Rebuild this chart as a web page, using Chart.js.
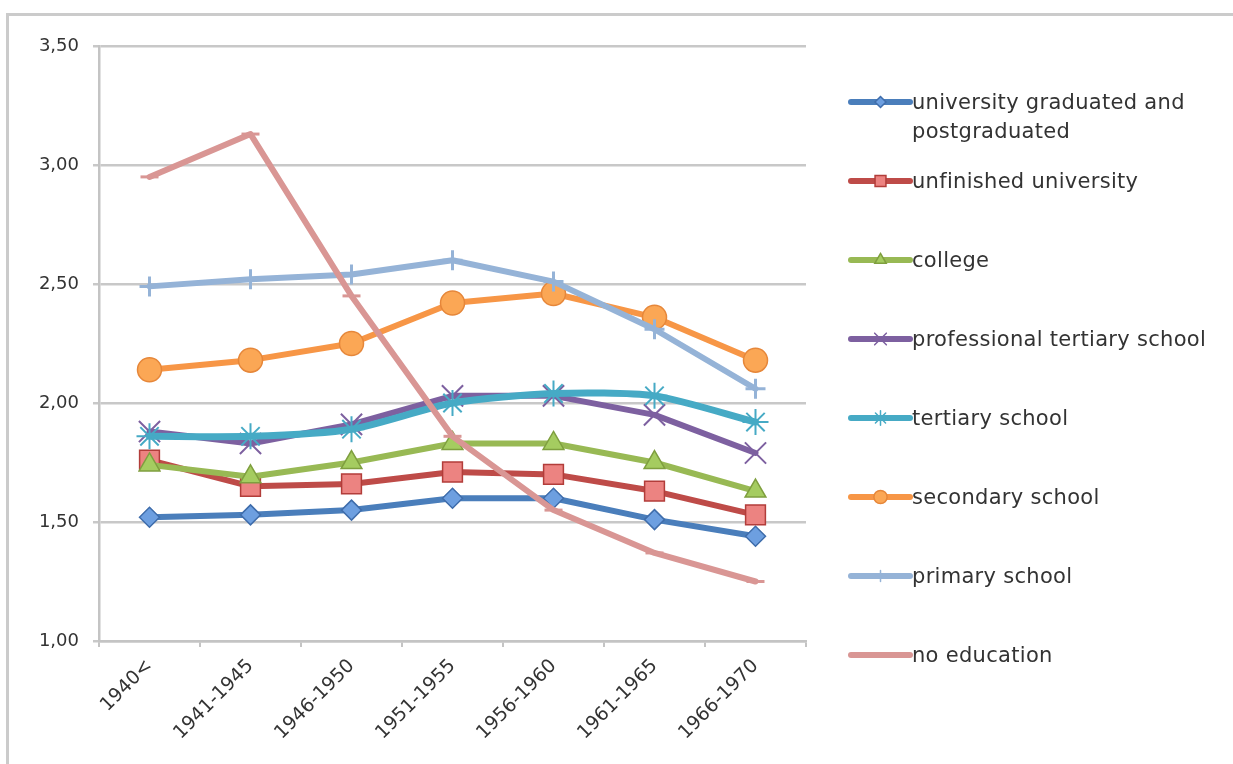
<!DOCTYPE html>
<html>
<head>
<meta charset="utf-8">
<script src="https://cdn.jsdelivr.net/npm/chart.js@4/dist/chart.umd.min.js"></script>
<style>
  html, body { margin: 0; padding: 0; background: #fff; }
  body { width: 1233px; height: 764px; position: relative; overflow: hidden; }
  .frame { position: absolute; left: 6px; top: 13px; width: 1400px; height: 900px;
           border-left: 3px solid #cbcbcb; border-top: 3px solid #cbcbcb; }
  #chart { position: absolute; left: 0; top: 0; }
</style>
</head>
<body>
<div class="frame"></div>
<canvas id="chart" width="1233" height="764"></canvas>
<script>
// --- DATI ---
const categories = ["1940<", "1941-1945", "1946-1950", "1951-1955", "1956-1960", "1961-1965", "1966-1970"];

const universityGrad = [1.52, 1.53, 1.55, 1.60, 1.60, 1.51, 1.44];
const unfinishedUniv = [1.76, 1.65, 1.66, 1.71, 1.70, 1.63, 1.53];
const college        = [1.74, 1.69, 1.75, 1.83, 1.83, 1.75, 1.63];
const profTertiary   = [1.88, 1.83, 1.91, 2.03, 2.03, 1.95, 1.79];
const tertiary       = [1.86, 1.86, 1.89, 2.00, 2.04, 2.03, 1.92];
const secondary      = [2.14, 2.18, 2.25, 2.42, 2.46, 2.36, 2.18];
const primary        = [2.49, 2.52, 2.54, 2.60, 2.51, 2.31, 2.06];
const noEducation    = [2.95, 3.13, 2.45, 1.86, 1.55, 1.37, 1.25];

const yTickValues = [1.0, 1.5, 2.0, 2.5, 3.0, 3.5];
const yTickLabels = ["1,00", "1,50", "2,00", "2,50", "3,00", "3,50"];

// --- SERIE ---
function serie(label, data, line, fill, edge, style, radius, extra) {
  return Object.assign({
    label, data,
    borderColor: line, borderWidth: 6,
    borderJoinStyle: 'round', borderCapStyle: 'round',
    pointStyle: style, pointRadius: radius, pointHoverRadius: radius,
    pointBackgroundColor: fill, pointBorderColor: edge, pointBorderWidth: 1.5,
    tension: 0, fill: false
  }, extra || {});
}

const datasets = [
  serie("university graduated and postgraduated", universityGrad, '#4a7ebb', '#6d9fe0', '#3f6dab', 'rectRot', 10),
  serie("unfinished university", unfinishedUniv, '#be4b48', '#ec8381', '#b23d3a', 'rect', 14),
  serie("college", college, '#98b954', '#a5cc60', '#7f9f3f', 'triangle', 12),
  serie("professional tertiary school", profTertiary, '#7d60a0', '#7d60a0', '#7d60a0', 'crossRot', 15, { pointBorderWidth: 2 }),
  serie("tertiary school", tertiary, '#46aac5', '#46aac5', '#46aac5', 'star', 13, { pointBorderWidth: 2, borderWidth: 7, tension: 0.25 }),
  serie("secondary school", secondary, '#f79646', '#fba755', '#e6873a', 'circle', 12),
  serie("primary school", primary, '#95b3d7', '#95b3d7', '#95b3d7', 'cross', 10, { pointBorderWidth: 3 }),
  serie("no education", noEducation, '#d99694', '#d99694', '#d99694', 'line', 9, { pointBorderWidth: 3 })
];
// le ultime serie stanno sopra, come in Excel
datasets.forEach((d, i) => { d.order = datasets.length - i; });

// --- LEGENDA (disegnata a mano, a slot fissi) ---
const legendPlugin = {
  id: 'excelLegend',
  afterDraw(chart) {
    const ctx = chart.ctx;
    const area = chart.chartArea;
    const lineX0 = area.right + 45, lineX1 = area.right + 104, textX = area.right + 106;
    const maxW = 1233 - textX - 8;
    ctx.save();
    ctx.font = '21px "DejaVu Sans"';
    if ('letterSpacing' in ctx) ctx.letterSpacing = '0.3px';
    ctx.textBaseline = 'middle';
    ctx.textAlign = 'left';
    chart.data.datasets.forEach((ds, i) => {
      const y = area.top + 58 + 79 * i;
      ctx.lineCap = 'round';
      ctx.lineWidth = 6;
      ctx.strokeStyle = ds.borderColor;
      ctx.beginPath();
      ctx.moveTo(lineX0, y - 2);
      ctx.lineTo(lineX1, y - 2);
      ctx.stroke();
      if (Chart.helpers && Chart.helpers.drawPoint && ds.pointStyle !== 'line') {
        ctx.fillStyle = ds.pointBackgroundColor;
        ctx.strokeStyle = ds.pointBorderColor;
        ctx.lineWidth = Math.min(ds.pointBorderWidth, 1.5);
        Chart.helpers.drawPoint(ctx, { pointStyle: ds.pointStyle, radius: ds.pointRadius * 0.55, borderWidth: ctx.lineWidth, rotation: 0 },
          (lineX0 + lineX1) / 2, y - 2);
      }
      // a capo manuale
      const words = ds.label.split(' ');
      const lines = [];
      let cur = '';
      words.forEach(w => {
        const t = cur ? cur + ' ' + w : w;
        if (ctx.measureText(t).width > maxW && cur) { lines.push(cur); cur = w; }
        else cur = t;
      });
      lines.push(cur);
      ctx.fillStyle = '#333333';
      lines.forEach((l, k) => ctx.fillText(l, textX, y + 29 * k));
    });
    ctx.restore();
  }
};

new Chart(document.getElementById('chart'), {
  type: 'line',
  data: { labels: categories, datasets },
  options: {
    responsive: false,
    animation: false,
    devicePixelRatio: 1,
    layout: { padding: { top: 46, right: 427, left: 0, bottom: 0 } },
    plugins: { legend: { display: false }, tooltip: { enabled: false } },
    scales: {
      x: {
        offset: true,
        afterFit: (s) => { s.height = 123; },
        grid: { drawOnChartArea: false, offset: true, tickLength: 6, color: '#c4c4c4', lineWidth: 2 },
        border: { color: '#c4c4c4', width: 2.5 },
        ticks: { color: '#333333', font: { family: 'DejaVu Sans', size: 19 }, minRotation: 45, maxRotation: 45, padding: 8 }
      },
      y: {
        min: 1, max: 3.5,
        afterFit: (s) => { s.width = 99; },
        afterBuildTicks: (s) => { s.ticks = yTickValues.map(v => ({ value: v })); },
        grid: { color: '#c8c8c8', lineWidth: 2.5, tickLength: 6 },
        border: { color: '#c4c4c4', width: 2.5 },
        ticks: {
          color: '#333333', font: { family: 'DejaVu Sans', size: 18 }, padding: 14,
          callback: (v) => yTickLabels[yTickValues.indexOf(v)]
        }
      }
    }
  },
  plugins: [legendPlugin]
});
</script>
</body>
</html>
